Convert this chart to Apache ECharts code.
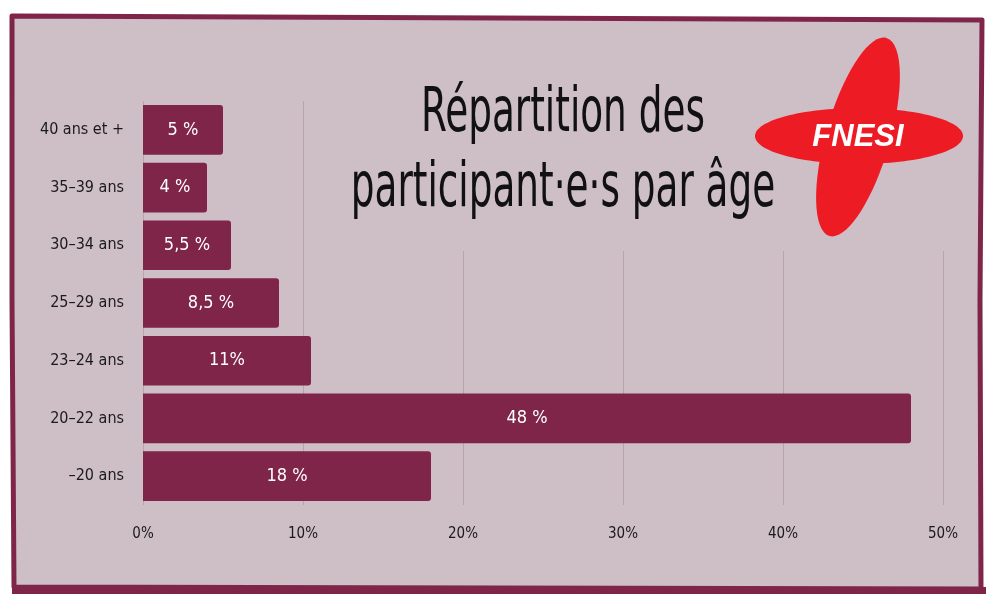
<!DOCTYPE html>
<html>
<head>
<meta charset="utf-8">
<script src="https://cdn.jsdelivr.net/npm/echarts@6/dist/echarts.min.js"></script>
<style>
html, body { margin: 0; padding: 0; background: #fff; }
#main { width: 986px; height: 594px; }
</style>
</head>
<body>
<div id="main"></div>
<script>
// tranches d'âge, du bas vers le haut
var ageGroups = ['–20 ans', '20–22 ans', '23–24 ans', '25–29 ans', '30–34 ans', '35–39 ans', '40 ans et +'];
var shares = [18, 48, 10.5, 8.5, 5.5, 4, 5];
var shareLabels = ['18 %', '48 %', '11%', '8,5 %', '5,5 %', '4 %', '5 %'];
var xTicks = [0, 10, 20, 30, 40, 50];

var bg = '#cebec6';
var wine = '#7f2549';
var hand = "'DejaVu Sans Condensed', 'Liberation Sans Narrow', sans-serif";

var myChart = echarts.init(document.getElementById('main'));

var option = {
	backgroundColor: '#ffffff',
	animation: false,
	grid: { left: 143, right: 43, top: 101, bottom: 89 },
	xAxis: {
		type: 'value',
		min: xTicks[0],
		max: xTicks[xTicks.length - 1],
		interval: 10,
		axisLine: { show: false },
		axisTick: { show: false },
		splitLine: { show: true, lineStyle: { color: '#b7a5ae', width: 1 } },
		axisLabel: {
			margin: 22,
			color: '#1a1a1a',
			fontFamily: hand,
			fontSize: 15,
			formatter: '{value}%'
		}
	},
	yAxis: {
		type: 'category',
		data: ageGroups,
		axisLine: { show: false },
		axisTick: { show: false },
		axisLabel: {
			margin: 19,
			color: '#1a1a1a',
			fontFamily: hand,
			fontSize: 16
		}
	},
	series: [{
		type: 'bar',
		data: shares,
		barCategoryGap: '14%',
		z: 5,
		itemStyle: { color: wine, borderRadius: [0, 3, 3, 0] },
		label: {
			show: true,
			position: 'inside',
			color: '#ffffff',
			fontFamily: hand,
			fontSize: 18,
			formatter: function (p) { return shareLabels[p.dataIndex]; }
		}
	}],
	graphic: [
		// cadre dessiné à la main
		{
			type: 'polygon', z: -10,
			shape: { points: [[12, 16], [982, 20], [980, 300], [981, 589], [14, 587], [12, 300]] },
			style: { fill: bg, stroke: wine, lineWidth: 5, lineJoin: 'round' }
		},
		{
			type: 'rect', z: -9,
			shape: { x: 12, y: 587, width: 974, height: 7 },
			style: { fill: wine }
		},
		// zone du titre qui masque les lignes de grille
		{
			type: 'rect', z: 2,
			shape: { x: 308, y: 24, width: 669, height: 227 },
			style: { fill: bg }
		},
		{
			type: 'text', z: 10, x: 563, y: 146, scaleX: 0.67,
			style: {
				text: 'Répartition des', fill: '#111', font: '62px ' + hand,
				textAlign: 'center', textVerticalAlign: 'bottom'
			}
		},
		{
			type: 'text', z: 10, x: 563, y: 221, scaleX: 0.67,
			style: {
				text: 'participant·e·s par âge', fill: '#111', font: '62px ' + hand,
				textAlign: 'center', textVerticalAlign: 'bottom'
			}
		},
		// logo FNESI
		{
			type: 'ellipse', z: 10,
			shape: { cx: 0, cy: 0, rx: 32, ry: 103 },
			x: 858, y: 137, rotation: -0.28,
			style: { fill: '#ed1c24' }
		},
		{
			type: 'ellipse', z: 10,
			shape: { cx: 859, cy: 136, rx: 104, ry: 28 },
			style: { fill: '#ed1c24' }
		},
		{
			type: 'text', z: 11, x: 858, y: 137,
			style: {
				text: 'FNESI', fill: '#fff',
				font: 'italic bold 31px "Liberation Sans", Arial, sans-serif',
				textAlign: 'center', textVerticalAlign: 'middle'
			}
		}
	]
};

myChart.setOption(option);
</script>
</body>
</html>
